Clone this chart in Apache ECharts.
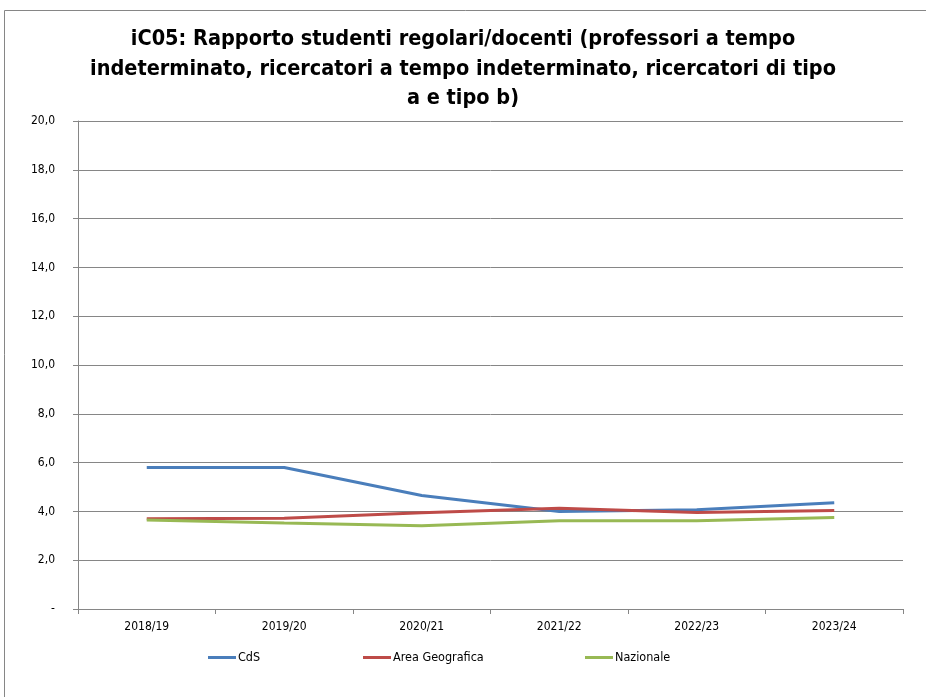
<!DOCTYPE html>
<html><head><meta charset="utf-8">
<script src="https://cdn.jsdelivr.net/npm/echarts@6/dist/echarts.min.js"></script>
<style>html,body{margin:0;padding:0;background:#fff}#c{width:926px;height:697px}</style>
</head><body><div id="c"></div>
<script>
const categories = ['2018/19','2019/20','2020/21','2021/22','2022/23','2023/24'];
const cds = [5.80, 5.80, 4.65, 4.00, 4.07, 4.35];
const areaGeografica = [3.70, 3.72, 3.94, 4.13, 3.95, 4.04];
const nazionale = [3.65, 3.52, 3.41, 3.62, 3.62, 3.75];
const seriesNames = ['CdS','Area Geografica','Nazionale'];
const colors = ['#4A7EBB','#BE4B48','#98B954'];
const titleText = 'iC05: Rapporto studenti regolari/docenti (professori a tempo\nindeterminato, ricercatori a tempo indeterminato, ricercatori di tipo\na e tipo b)';

const FONT = '"Liberation Sans Narrow","DejaVu Sans Condensed",sans-serif';
const chart = echarts.init(document.getElementById('c'));
const mk = (name, data, i) => ({
  name, type:'line', data, symbol:'none', smooth:false,
  lineStyle:{color:colors[i], width:3}, itemStyle:{color:colors[i]}
});
const legendLefts = [208, 363, 585];
chart.setOption({
  animation:false,
  graphic:[{type:'rect', shape:{x:4.5,y:10.5,width:940,height:700}, style:{fill:'none',stroke:'#868686',lineWidth:1}, silent:true}],
  title:{text:titleText, left:'center', top:20, textStyle:{fontFamily:FONT, fontWeight:'bold', fontSize:21.5, color:'#000', lineHeight:29.5}},
  legend:seriesNames.map((n,i)=>({left:legendLefts[i], top:651, itemWidth:28, itemHeight:3, icon:'rect', padding:0,
    textStyle:{fontFamily:FONT, fontSize:12.5, color:'#000', padding:[0,0,0,-3]}, data:[n]})),
  grid:{left:78, right:23, top:121, bottom:88},
  xAxis:{type:'category', data:categories, boundaryGap:true,
    axisLine:{lineStyle:{color:'#868686'}}, axisTick:{show:true, length:5, lineStyle:{color:'#868686'}},
    axisLabel:{fontFamily:FONT, fontSize:12, color:'#000', margin:12}},
  yAxis:{type:'value', min:0, max:20, interval:2,
    axisLine:{show:true, lineStyle:{color:'#868686'}}, axisTick:{show:true, length:5, lineStyle:{color:'#868686'}},
    splitLine:{lineStyle:{color:'#868686'}},
    axisLabel:{fontFamily:FONT, fontSize:12, color:'#000', margin:23,
      formatter:v => v===0 ? '-' : v.toFixed(1).replace('.',',')}},
  series:[mk(seriesNames[0],cds,0), mk(seriesNames[1],areaGeografica,1), mk(seriesNames[2],nazionale,2)]
});
</script></body></html>
